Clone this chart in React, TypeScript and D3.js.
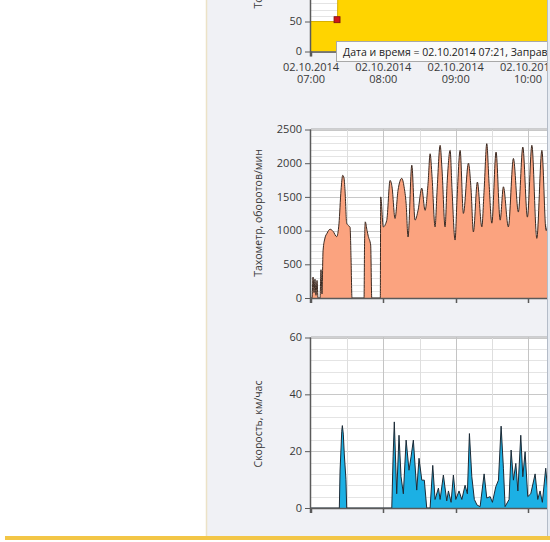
import * as d3 from "d3";

// time axis: minutes after 02.10.2014 07:00
const startTime = new Date(2014, 9, 2, 7, 0);
const hourTicks = [0, 60, 120, 180];
const halfHourGrid = [30, 60, 90, 120, 150, 180];

// top chart: fuel level (only the bottom of it is visible)
const fuelMinutes = [0, 22, 22.4, 200];
const fuelValues = [50, 50, 130, 130];
const fuelTicks = [0, 50];
const fuelTitle = "Топливо, л";
const markerMinute = 21.6;
const markerValue = 53;
const tooltipText = "Дата и время = 02.10.2014 07:21, Заправка = 50 л";

// middle chart: tachometer
const rpmMinutes = [
  0, 0.8, 1.7, 2.5, 3.3, 4.1, 5.0, 5.8, 7.5, 8.3, 9.1, 10.0, 11.6, 13.3, 15.8, 18.3, 21.3, 23.2, 24.9, 26.3,
  27.4, 28.2, 29.6, 30.7, 32.4, 33.2, 34.0, 44.0, 44.4, 45.0, 46.5, 47.6, 49.5, 50.4, 57.5, 57.8, 60.0, 62.8,
  65.6, 67.2, 69.7, 72.2, 75.3, 77.2, 78.9, 80.5, 83.6, 86.3, 88.8, 91.9, 94.6, 97.1, 98.8, 100.4, 102.9,
  104.6, 107.1, 108.7, 111.2, 112.9, 115.4, 117.0, 119.5, 121.2, 123.7, 126.4, 130.6, 132.8, 134.7, 138.0,
  141.7, 143.6, 145.8, 147.7, 150.0, 153.5, 156.9, 159.6, 163.7, 167.9, 172.0, 175.7, 179.5, 183.2, 187.3,
  191.5, 195.0, 198.3,
];
const rpmValues = [
  0, 0, 310, 80, 280, 40, 260, 0, 0, 420, 60, 700, 890, 960, 1020, 990, 910, 1100, 1600, 1820,
  1780, 1600, 1110, 1080, 1050, 600, 0, 0, 760, 1130, 1000, 910, 785, 0, 0, 1500, 1055, 1150,
  1745, 1650, 1180, 1600, 1775, 1650, 1400, 905, 1970, 1155, 1300, 1630, 1300, 1700, 2140, 1800, 1055,
  1600, 2265, 1900, 1055, 1700, 2190, 1600, 860, 1500, 2190, 1255, 2000, 1600, 980, 1720,
  1055, 1600, 2290, 1700, 1110, 2165, 1155, 1650, 1055, 2070, 1275, 2240, 1200, 2265, 885,
  2190, 1000, 1500,
];
const rpmTicks = [0, 500, 1000, 1500, 2000, 2500];
const rpmTitle = "Тахометр, оборотов/мин";

// bottom chart: speed
const speedMinutes = [
  0, 23.5, 24.1, 25.5, 26.0, 26.8, 27.6, 29.0, 29.6,
  67.0, 68.1, 69.1, 71.1, 73.0, 74.7, 76.6, 78.9, 81.3, 83.0, 84.9, 87.7, 89.6, 91.9, 94.0, 96.0,
  98.8, 101.0, 102.9, 105.7, 107.1, 109.8, 112.6, 114.0, 116.2, 118.1, 120.1, 122.8, 125.1, 127.8,
  129.7, 131.4, 133.4, 135.5, 137.8, 140.3, 143.6, 145.8, 148.6, 150.5, 153.3, 155.5, 157.7, 159.6,
  161.0, 164.3, 166.0, 167.9, 169.9, 171.6, 174.0, 175.7, 177.6, 179.8, 182.3, 185.9, 188.1, 190.0,
  191.9, 194.7, 196.8,
];
const speedValues = [
  0, 0, 13, 27, 29, 26, 19, 10, 0,
  0, 18, 30.3, 5, 25.6, 11, 5, 23.9, 13.3, 18, 23.9, 6.3, 17.5, 9.8, 9.8, 0,
  0, 15, 3, 7, 3, 11.6, 2.5, 6, 2, 11.6, 3, 6, 3, 8,
  5, 26.2, 11, 3, 1, 0.5, 12, 3.5, 4, 2, 7.5, 9.8, 28.8, 14,
  0.5, 3, 20.4, 9.8, 15.7, 6, 25.6, 11, 19.8, 4, 5, 12, 3, 6,
  2, 14, 4,
];
const speedTicks = [0, 20, 40, 60];
const speedTitle = "Скорость, км/час";

const FONT = "'Open Sans', 'DejaVu Sans', sans-serif";
const TEXT = "#383838";
const PLOT_LEFT = 311;
const PLOT_RIGHT = 547;

const toDate = (m: number) => new Date(startTime.getTime() + m * 60000);

const x = d3
  .scaleTime()
  .domain([toDate(0), toDate(180)])
  .range([PLOT_LEFT, 528]);

type Pt = { t: number; v: number };
const zip = (ts: number[], vs: number[]): Pt[] => ts.map((t, i) => ({ t, v: vs[i] }));

function Chart(props: {
  top: number;
  bottom: number;
  max: number;
  ticks: number[];
  minorStep: number;
  data: Pt[];
  fill: string;
  stroke: string;
  title: string;
  titleY: number;
  anchor?: string;
  frameTop?: boolean;
  hiMax?: number;
  smooth?: boolean;
}) {
  const { top, bottom, max, ticks, minorStep, data, fill, stroke, title, titleY } = props;
  const y = d3.scaleLinear().domain([0, max]).range([bottom, top]);
  const hiMax = props.hiMax ?? max;
  const minor = d3.range(0, hiMax + 0.001, minorStep);
  const curve = props.smooth ? d3.curveMonotoneX : d3.curveLinear;
  const area = d3
    .area<Pt>()
    .x((d) => x(toDate(d.t)))
    .y0(y(0))
    .y1((d) => y(d.v))
    .curve(curve);
  const line = d3
    .line<Pt>()
    .x((d) => x(toDate(d.t)))
    .y((d) => y(d.v))
    .curve(curve);
  const plotTop = Math.max(y(hiMax), 0);
  return (
    <g>
      <rect x={PLOT_LEFT} y={plotTop} width={PLOT_RIGHT - PLOT_LEFT} height={bottom - plotTop} fill="#fff" />
      {minor.map((v) => (
        <line
          key={"h" + v}
          x1={PLOT_LEFT}
          x2={PLOT_RIGHT}
          y1={Math.round(y(v)) + 0.5}
          y2={Math.round(y(v)) + 0.5}
          stroke={v % (ticks[1] - ticks[0]) === 0 ? "#c8c8c8" : "#e4e4e4"}
        />
      ))}
      {halfHourGrid.map((m) => (
        <line
          key={"v" + m}
          x1={Math.round(x(toDate(m))) + 0.5}
          x2={Math.round(x(toDate(m))) + 0.5}
          y1={plotTop}
          y2={bottom}
          stroke={m % 60 === 0 ? "#c4c4c4" : "#dedede"}
        />
      ))}
      <g clipPath="url(#plotClip)">
        <path d={area(data) ?? ""} fill={fill} />
        <path d={line(data) ?? ""} fill="none" stroke={stroke} strokeWidth={1} strokeLinejoin="round" />
      </g>
      {props.frameTop && (
        <line x1={PLOT_LEFT} x2={PLOT_RIGHT} y1={top - 0.5} y2={top - 0.5} stroke="#a8a8a8" />
      )}
      {/* axes */}
      <line x1={PLOT_LEFT} x2={PLOT_RIGHT} y1={bottom + 0.5} y2={bottom + 0.5} stroke="#5a5a5a" strokeWidth={1.5} />
      <line x1={PLOT_LEFT - 0.5} x2={PLOT_LEFT - 0.5} y1={plotTop} y2={bottom + 5} stroke="#5a5a5a" strokeWidth={1.5} />
      {hourTicks.map((m) => (
        <line
          key={"xt" + m}
          x1={Math.round(x(toDate(m))) + 0.5}
          x2={Math.round(x(toDate(m))) + 0.5}
          y1={bottom}
          y2={bottom + 5}
          stroke="#5a5a5a"
          strokeWidth={1.5}
        />
      ))}
      {ticks.map((v) => (
        <g key={"yt" + v}>
          <line x1={PLOT_LEFT - 6} x2={PLOT_LEFT} y1={y(v) + 0.5} y2={y(v) + 0.5} stroke="#5a5a5a" />
          <text x={PLOT_LEFT - 9} y={y(v)} dy="0.35em" textAnchor="end" fontSize={11} fill={TEXT} fontFamily={FONT}>
            {v}
          </text>
        </g>
      ))}
      <text
        transform={`translate(262,${titleY}) rotate(-90)`}
        textAnchor={props.anchor ?? "middle"}
        fontSize={10.5}
        fill={TEXT}
        fontFamily={FONT}
      >
        {title}
      </text>
    </g>
  );
}

export default function App() {
  const fuelData = zip(fuelMinutes, fuelValues);
  const rpmData = zip(rpmMinutes, rpmValues);
  const speedData = zip(speedMinutes, speedValues);
  const yFuel = d3.scaleLinear().domain([0, 50]).range([51.5, 21.5]);
  const fmtDate = d3.timeFormat("%d.%m.%Y");
  const fmtTime = d3.timeFormat("%H:%M");
  const mx = x(toDate(markerMinute));
  const my = yFuel(markerValue);
  return (
    <svg
      width={550}
      height={542}
      style={{ position: "absolute", left: 0, top: 0, background: "#fff" }}
    >
      <defs>
        <clipPath id="plotClip">
          <rect x={PLOT_LEFT} y={0} width={PLOT_RIGHT - PLOT_LEFT} height={536} />
        </clipPath>
        <clipPath id="panelClip">
          <rect x={207} y={0} width={PLOT_RIGHT - 207} height={536} />
        </clipPath>
      </defs>
      <rect x={0} y={0} width={550} height={542} fill="#fff" />
      <rect x={207} y={0} width={PLOT_RIGHT - 207} height={536} fill="#f0f1f5" />
      <line x1={206.5} x2={206.5} y1={0} y2={536} stroke="#ece2c6" strokeWidth={1.5} />

      <g clipPath="url(#panelClip)">
        <Chart
          top={21.5}
          bottom={51.5}
          max={50}
          hiMax={90}
          ticks={fuelTicks}
          minorStep={10}
          data={fuelData}
          fill="#ffd400"
          stroke="#d8b000"
          title={fuelTitle}
          titleY={8.5}
          anchor="start"
        />
        <Chart
          top={129.5}
          bottom={298}
          max={2500}
          ticks={rpmTicks}
          minorStep={100}
          data={rpmData}
          fill="#fba37f"
          stroke="#3b2a22"
          title={rpmTitle}
          titleY={213}
          frameTop
          smooth
        />
        <Chart
          top={337.5}
          bottom={508}
          max={60}
          ticks={speedTicks}
          minorStep={4}
          data={speedData}
          fill="#1cb0e4"
          stroke="#1b2a36"
          title={speedTitle}
          titleY={424}
          frameTop
        />

        {hourTicks.map((m) => (
          <g key={"xl" + m}>
            <text x={x(toDate(m))} y={70.5} textAnchor="middle" fontSize={11} fill={TEXT} fontFamily={FONT}>
              {fmtDate(toDate(m))}
            </text>
            <text x={x(toDate(m))} y={82.5} textAnchor="middle" fontSize={11} fill={TEXT} fontFamily={FONT}>
              {fmtTime(toDate(m))}
            </text>
          </g>
        ))}

        <rect x={mx - 3} y={my - 3} width={6} height={6} fill="#d01818" stroke="#7a1010" strokeWidth={0.8} />

        <rect x={336.5} y={41.5} width={240} height={20} fill="#fafafa" stroke="#a8a8a8" />
        <text x={343} y={55.5} fontSize={10.5} fill="#222" fontFamily={FONT}>
          {tooltipText}
        </text>
      </g>

      <rect x={PLOT_RIGHT} y={0} width={3} height={536} fill="#e6ebf2" />
      <line x1={PLOT_RIGHT + 0.5} x2={PLOT_RIGHT + 0.5} y1={0} y2={536} stroke="#b4bcc8" />
      <rect x={5} y={536} width={545} height={4} fill="#f3c646" />
    </svg>
  );
}
